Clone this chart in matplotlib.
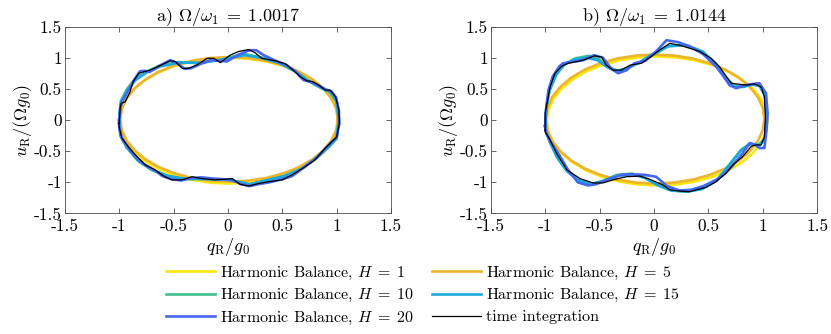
import numpy as np
import matplotlib
matplotlib.use("Agg")
import matplotlib.pyplot as plt

plt.rcParams['font.family'] = ['cmr10', 'DejaVu Serif']
plt.rcParams['mathtext.fontset'] = 'cm'
plt.rcParams['axes.unicode_minus'] = False

# ---- panel a) Omega/omega_1 = 1.0017 ----
# harmonic balance H = 1
q_h1_a = [1.02, 1.005, .959, .885, .784, .659, .515, .355, .186, .01, -.166, -.335, -.495, -.639, -.764, -.865,
          -.939, -.985, -1.0, -.985, -.939, -.865, -.764, -.639, -.495, -.335, -.166, .01, .186, .355, .515, .659,
          .784, .885, .959, 1.005]
u_h1_a = [-.01, .166, .335, .495, .639, .764, .865, .939, .985, 1.0, .985, .939, .865, .764, .639, .495, .335, .166,
          -.01, -.186, -.355, -.515, -.659, -.784, -.885, -.959, -1.005, -1.02, -1.005, -.959, -.885, -.784, -.659,
          -.515, -.355, -.186]
# harmonic balance H = 5
q_h5_a = [1.01, .995, .95, .876, .776, .653, .51, .352, .184, .01, -.164, -.332, -.49, -.633, -.756, -.856, -.93,
          -.975, -.99, -.975, -.93, -.856, -.756, -.633, -.49, -.332, -.164, .01, .184, .352, .51, .653, .776, .876,
          .95, .995]
u_h5_a = [.01, .184, .352, .51, .653, .776, .876, .95, .995, 1.01, .995, .95, .876, .776, .653, .51, .352, .184, .01,
          -.164, -.332, -.49, -.633, -.756, -.856, -.93, -.975, -.99, -.975, -.93, -.856, -.756, -.633, -.49, -.332,
          -.164]
# harmonic balance H = 10
q_h10_a = [-1.0, -0.985, -0.93, -0.86, -0.76, -0.63, -0.46, -0.27, -0.06, 0.14, 0.3, 0.47, 0.61, 0.72, 0.84, 0.94,
           0.995, 1.02, 0.995, 0.93, 0.82, 0.68, 0.52, 0.35, 0.2, 0.02, -0.2, -0.4, -0.56, -0.71, -0.83, -0.93,
           -0.985, -1.0]
u_h10_a = [0.0, 0.3, 0.49, 0.65, 0.77, 0.87, 0.93, 0.91, 0.97, 1.06, 1.01, 0.92, 0.79, 0.65, 0.53, 0.44, 0.3, 0.0,
           -0.3, -0.43, -0.6, -0.78, -0.9, -0.97, -1.04, -0.96, -0.94, -0.95, -0.89, -0.79, -0.65, -0.44, -0.25, 0.0]
# harmonic balance H = 15
q_h15_a = [-1.0, -0.98, -0.92, -0.85, -0.75, -0.62, -0.45, -0.25, -0.05, 0.15, 0.3, 0.48, 0.62, 0.73, 0.85, 0.95,
           1.0, 1.02, 1.0, 0.93, 0.82, 0.68, 0.52, 0.35, 0.2, 0.0, -0.2, -0.4, -0.55, -0.7, -0.82, -0.93, -0.99, -1.0]
u_h15_a = [0.0, 0.3, 0.48, 0.64, 0.76, 0.86, 0.92, 0.92, 0.97, 1.04, 1.0, 0.91, 0.78, 0.64, 0.52, 0.45, 0.3, 0.0,
           -0.3, -0.42, -0.6, -0.78, -0.9, -0.97, -1.03, -0.96, -0.95, -0.94, -0.9, -0.8, -0.66, -0.44, -0.25, 0.0]
# harmonic balance H = 20
q_h20_a = [-1.0, -0.99, -0.97, -0.93, -0.89, -0.855, -0.81, -0.77, -0.72, -0.64, -0.53, -0.46, -0.4, -0.34, -0.25,
           -0.16, -0.08, -0.01, 0.1, 0.2, 0.26, 0.33, 0.44, 0.54, 0.62, 0.695, 0.755, 0.8, 0.85, 0.9, 0.95, 0.995,
           1.02, 1.025, 1.0, 0.96, 0.9, 0.8, 0.7, 0.59, 0.5, 0.38, 0.28, 0.2, 0.12, 0.04, -0.04, -0.14, -0.24, -0.33,
           -0.43, -0.52, -0.6, -0.68, -0.77, -0.86, -0.92, -0.975, -1.0]
u_h20_a = [-0.05, 0.2, 0.3, 0.43, 0.55, 0.66, 0.78, 0.79, 0.77, 0.86, 0.96, 0.91, 0.82, 0.83, 0.9, 0.96, 0.95, 0.94,
           1.05, 1.12, 1.12, 1.04, 0.95, 0.88, 0.78, 0.64, 0.615, 0.58, 0.54, 0.49, 0.46, 0.36, 0.16, -0.05, -0.28,
           -0.34, -0.45, -0.63, -0.76, -0.9, -0.95, -1.0, -1.03, -1.06, -1.03, -0.96, -0.95, -0.94, -0.92, -0.93,
           -0.97, -0.95, -0.9, -0.8, -0.71, -0.57, -0.43, -0.29, -0.11]
# time integration
q_ti_a = [-1.0, -0.99, -0.98, -0.945, -0.90, -0.87, -0.82, -0.76, -0.715, -0.64, -0.53, -0.485, -0.42, -0.36, -0.29,
          -0.19, -0.13, -0.07, 0.02, 0.10, 0.19, 0.25, 0.31, 0.435, 0.53, 0.60, 0.665, 0.725, 0.78, 0.835, 0.895,
          0.94, 0.99, 1.02, 1.025, 1.00, 0.955, 0.895, 0.80, 0.71, 0.59, 0.50, 0.375, 0.28, 0.19, 0.11, 0.04, -0.02,
          -0.12, -0.24, -0.33, -0.42, -0.515, -0.58, -0.67, -0.76, -0.85, -0.915, -0.975, -1.0]
u_ti_a = [-0.05, 0.20, 0.27, 0.29, 0.45, 0.62, 0.75, 0.78, 0.80, 0.86, 0.95, 0.94, 0.83, 0.83, 0.88, 0.99, 0.99, 0.92,
          1.04, 1.10, 1.13, 1.08, 0.99, 0.95, 0.90, 0.80, 0.695, 0.63, 0.615, 0.56, 0.48, 0.48, 0.37, 0.16, -0.05,
          -0.27, -0.35, -0.45, -0.64, -0.75, -0.88, -0.96, -0.99, -1.02, -1.06, -1.03, -0.94, -0.95, -0.96, -0.94,
          -0.91, -0.96, -0.96, -0.91, -0.80, -0.72, -0.56, -0.43, -0.29, -0.11]

# ---- panel b) Omega/omega_1 = 1.0144 ----
q_h1_b = [1.045, 1.03, .984, .909, .807, .683, .538, .377, .207, .03, -.147, -.317, -.478, -.623, -.747, -.849, -.924,
          -.97, -.985, -.97, -.924, -.849, -.747, -.623, -.478, -.317, -.147, .03, .207, .377, .538, .683, .807, .909,
          .984, 1.03]
u_h1_b = [-.015, .165, .339, .503, .65, .778, .881, .958, 1.004, 1.02, 1.004, .958, .881, .778, .65, .503, .339, .165,
          -.015, -.195, -.369, -.533, -.68, -.808, -.911, -.988, -1.034, -1.05, -1.034, -.988, -.911, -.808, -.68,
          -.533, -.369, -.195]
q_h5_b = [1.015, 1.0, .955, .88, .78, .656, .513, .354, .185, .01, -.165, -.334, -.493, -.636, -.76, -.86, -.935,
          -.98, -.995, -.98, -.935, -.86, -.76, -.636, -.493, -.334, -.165, .01, .185, .354, .513, .656, .78, .88,
          .955, 1.0]
u_h5_b = [.015, .195, .369, .533, .68, .808, .911, .988, 1.034, 1.05, 1.034, .988, .911, .808, .68, .533, .369, .195,
          .015, -.165, -.339, -.503, -.65, -.778, -.881, -.958, -1.004, -1.02, -1.004, -.958, -.881, -.778, -.65,
          -.503, -.339, -.165]
q_h10_b = [-1.0, -0.99, -0.96, -0.9, -0.82, -0.72, -0.6, -0.5, -0.42, -0.33, -0.24, -0.12, 0.0, 0.14, 0.3, 0.45,
           0.57, 0.66, 0.74, 0.82, 0.9, 0.97, 1.02, 1.035, 1.02, 0.96, 0.88, 0.8, 0.7, 0.58, 0.44, 0.3, 0.16, 0.04,
           -0.08, -0.2, -0.34, -0.46, -0.58, -0.7, -0.8, -0.89, -0.95, -0.99, -1.0]
u_h10_b = [-0.1, 0.2, 0.48, 0.74, 0.9, 0.99, 1.03, 0.97, 0.85, 0.79, 0.84, 0.93, 1.05, 1.19, 1.2, 1.1, 0.9, 0.68,
           0.55, 0.54, 0.57, 0.55, 0.4, 0.05, -0.3, -0.4, -0.38, -0.48, -0.7, -0.96, -1.1, -1.15, -1.13, -1.05, -0.93,
           -0.86, -0.88, -0.97, -1.03, -0.96, -0.82, -0.6, -0.38, -0.2, -0.1]
q_h15_b = [-1.0, -0.99, -0.96, -0.9, -0.83, -0.73, -0.62, -0.52, -0.43, -0.35, -0.26, -0.14, -0.02, 0.12, 0.28,
           0.44, 0.57, 0.66, 0.74, 0.82, 0.9, 0.97, 1.02, 1.035, 1.02, 0.97, 0.89, 0.8, 0.7, 0.58, 0.44, 0.3, 0.16,
           0.04, -0.08, -0.2, -0.34, -0.46, -0.58, -0.7, -0.8, -0.89, -0.95, -0.99, -1.0]
u_h15_b = [-0.1, 0.2, 0.47, 0.72, 0.88, 0.97, 1.0, 0.96, 0.85, 0.78, 0.82, 0.92, 1.05, 1.18, 1.2, 1.1, 0.9, 0.66,
           0.53, 0.53, 0.57, 0.55, 0.4, 0.05, -0.3, -0.41, -0.38, -0.49, -0.71, -0.97, -1.11, -1.15, -1.13, -1.05,
           -0.93, -0.87, -0.9, -0.98, -1.03, -0.96, -0.82, -0.6, -0.38, -0.2, -0.1]
q_h20_b = [-1.0, -0.99, -0.97, -0.93, -0.87, -0.835, -0.76, -0.65, -0.55, -0.47, -0.4, -0.33, -0.25, -0.18, -0.08,
           0.02, 0.115, 0.22, 0.33, 0.45, 0.57, 0.64, 0.695, 0.755, 0.84, 0.92, 0.97, 1.03, 1.045, 1.035, 1.015,
           0.97, 0.93, 0.88, 0.815, 0.72, 0.64, 0.57, 0.455, 0.34, 0.235, 0.12, 0.02, -0.085, -0.2, -0.3, -0.45,
           -0.53, -0.605, -0.7, -0.79, -0.88, -0.95, -0.99, -1.0]
u_h20_b = [-0.1, 0.2, 0.48, 0.7, 0.86, 0.91, 0.93, 0.96, 1.04, 1.0, 0.84, 0.75, 0.8, 0.91, 0.95, 1.1, 1.28, 1.25,
           1.18, 1.06, 0.86, 0.7, 0.56, 0.51, 0.56, 0.58, 0.59, 0.43, 0.1, -0.16, -0.45, -0.45, -0.40, -0.37, -0.535,
           -0.74, -0.88, -0.96, -1.06, -1.12, -1.13, -1.06, -0.91, -0.88, -0.87, -0.88, -0.97, -1.03, -1.05, -1.0,
           -0.8, -0.535, -0.35, -0.21, -0.1]
q_ti_b = [-1.0, -1.0, -0.98, -0.955, -0.91, -0.85, -0.79, -0.70, -0.635, -0.545, -0.48, -0.44, -0.375, -0.30, -0.22,
          -0.115, -0.025, 0.05, 0.145, 0.235, 0.33, 0.42, 0.525, 0.60, 0.665, 0.71, 0.755, 0.85, 0.925, 0.985, 1.015,
          1.025, 1.015, 0.985, 0.94, 0.895, 0.815, 0.725, 0.665, 0.57, 0.48, 0.325, 0.235, 0.145, 0.08, -0.04, -0.13,
          -0.255, -0.375, -0.47, -0.56, -0.68, -0.80, -0.895, -0.955, -1.0]
u_ti_b = [-0.16, 0.11, 0.30, 0.53, 0.75, 0.86, 0.91, 0.94, 0.97, 1.03, 1.01, 0.88, 0.80, 0.80, 0.88, 0.91, 1.02, 1.12,
          1.23, 1.20, 1.15, 1.10, 0.99, 0.86, 0.70, 0.59, 0.58, 0.56, 0.58, 0.53, 0.37, 0.05, -0.27, -0.40, -0.40,
          -0.42, -0.59, -0.72, -0.85, -0.99, -1.08, -1.15, -1.14, -1.12, -1.04, -0.95, -0.90, -0.91, -0.96, -1.01,
          -1.01, -0.94, -0.80, -0.535, -0.32, -0.19]

titles = [r'a) $\Omega/\omega_1\;=\;1.0017$', r'b) $\Omega/\omega_1\;=\;1.0144$']
labels = [r'Harmonic Balance, $H\;=\;1$', r'Harmonic Balance, $H\;=\;5$', r'Harmonic Balance, $H\;=\;10$',
          r'Harmonic Balance, $H\;=\;15$', r'Harmonic Balance, $H\;=\;20$', 'time integration']
colors = ['#F7E70F', '#EDB42C', '#3CBF8C', '#1CA8DC', '#4567F0', 'black']
ticks = [-1.5, -1, -0.5, 0, 0.5, 1, 1.5]
tick_labels = ['-1.5', '-1', '-0.5', '0', '0.5', '1', '1.5']

panels = [
    [(q_h1_a, u_h1_a), (q_h5_a, u_h5_a), (q_h10_a, u_h10_a), (q_h15_a, u_h15_a), (q_h20_a, u_h20_a), (q_ti_a, u_ti_a)],
    [(q_h1_b, u_h1_b), (q_h5_b, u_h5_b), (q_h10_b, u_h10_b), (q_h15_b, u_h15_b), (q_h20_b, u_h20_b), (q_ti_b, u_ti_b)],
]

fig = plt.figure(figsize=(8.31, 3.34), dpi=100)
ax_a = fig.add_axes([0.0779, 0.3608, 0.3927, 0.5598])
ax_b = fig.add_axes([0.5906, 0.3608, 0.3927, 0.5598])

handles = []
for ax, curves, title in zip([ax_a, ax_b], panels, titles):
    handles = []
    for (q, u), col, lab in zip(curves, colors, labels):
        # close the loop by repeating the first point
        qq = np.append(q, q[0])
        uu = np.append(u, u[0])
        lw = 0.9 if col == 'black' else 1.9
        h, = ax.plot(qq, uu, color=col, lw=lw, label=lab, solid_joinstyle='round')
        handles.append(h)
    ax.set_xlim(-1.5, 1.5)
    ax.set_ylim(-1.5, 1.5)
    ax.set_xticks(ticks)
    ax.set_xticklabels(tick_labels)
    ax.set_yticks(ticks)
    ax.set_yticklabels(tick_labels)
    ax.tick_params(direction='in', top=True, right=True, length=3.5, width=0.6, colors='0.3',
                   labelcolor='black', labelsize=12.5)
    ax.tick_params(axis='x', pad=4)
    ax.tick_params(axis='y', pad=2)
    for sp in ax.spines.values():
        sp.set_color('0.3')
        sp.set_linewidth(0.6)
    ax.set_title(title, fontsize=13, pad=4)
    ax.set_xlabel(r'$q_\mathrm{R}/g_0$', fontsize=13, labelpad=1)
    ax.set_ylabel(r'$u_\mathrm{R}/(\Omega g_0)$', fontsize=13, labelpad=0)

# MATLAB fills the legend row by row; matplotlib fills column by column
order = [0, 2, 4, 1, 3, 5]
fig.legend([handles[i] for i in order], [labels[i] for i in order], loc='center',
           bbox_to_anchor=(0.509, 0.114), ncol=2, frameon=False, fontsize=11.5, handlelength=3.1,
           columnspacing=1.1, handletextpad=0.3, labelspacing=0.35, borderpad=0.2)

fig.savefig('out.png', dpi=100)
